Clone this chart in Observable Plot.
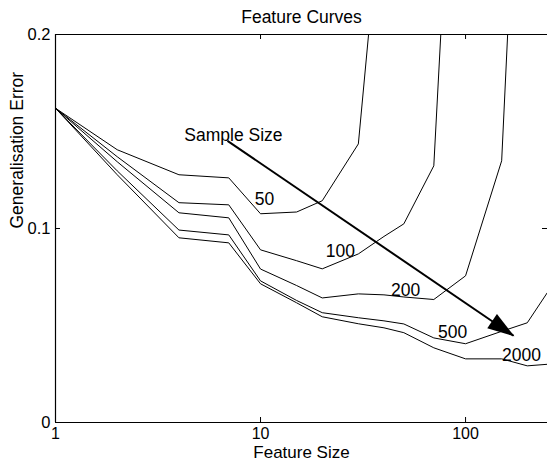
<!DOCTYPE html>
<html>
<head>
<meta charset="utf-8">
<script src="https://cdn.jsdelivr.net/npm/d3@7"></script>
<script src="https://cdn.jsdelivr.net/npm/@observablehq/plot@0.6"></script>
<style>
  html, body { margin: 0; padding: 0; background: white; }
</style>
</head>
<body>
<div id="chart"></div>
<script>
// ---- data ----
const features = [1, 2, 4, 7, 10, 15, 20, 30, 40, 50, 70, 100, 150, 200, 250];
const sampleSizes = [50, 100, 200, 500, 2000];
const err50   = [0.162, 0.1406, 0.1277, 0.1261, 0.1076, 0.1085, 0.1143, 0.1436, 0.285, null, null, null, null, null, null];
const err100  = [0.162, 0.137, 0.1133, 0.1122, 0.0890, 0.0834, 0.0792, 0.0869, 0.0959, 0.1024, 0.1323, 0.44, null, null, null];
const err200  = [0.162, 0.1344, 0.1081, 0.1055, 0.0791, 0.0706, 0.0642, 0.0663, 0.0658, 0.0647, 0.0634, 0.0756, 0.1349, 0.414, null];
const err500  = [0.162, 0.1297, 0.0992, 0.0967, 0.0730, 0.0629, 0.0566, 0.0540, 0.0524, 0.0508, 0.0436, 0.0406, 0.0470, 0.0514, 0.0668];
const err2000 = [0.162, 0.1277, 0.0952, 0.0926, 0.0715, 0.0617, 0.0545, 0.0509, 0.0488, 0.0463, 0.0385, 0.0328, 0.0328, 0.0292, 0.0300];
const errors = [err50, err100, err200, err500, err2000];

const curveLabels = ["50", "100", "200", "500", "2000"];
const labelX = [10.46, 24.5, 51, 86.4, 187.6];
const labelY = [0.1148, 0.088, 0.0679, 0.0467, 0.0344];

const arrowX = [6.9, 171.5];
const arrowY = [0.1452, 0.0447];
const arrowTitle = "Sample Size";
const arrowTitleX = 7.38;
const arrowTitleY = 0.1478;

const xTicks = [1, 10, 100];
const yTicks = [0, 0.1, 0.2];
const xInnerTicks = [10, 100];
const yInnerTicks = [0.1];

const title = "Feature Curves";
const xLabel = "Feature Size";
const yLabel = "Generalisation Error";

// ---- tables ----
const rows = sampleSizes.flatMap((s, i) =>
  features.map((f, j) => ({feature: f, error: errors[i][j], size: s}))
);
const labels = curveLabels.map((t, i) => ({text: t, x: labelX[i], y: labelY[i]}));
const arrow = [{x1: arrowX[0], y1: arrowY[0], x2: arrowX[1], y2: arrowY[1]}];

const svgNS = "http://www.w3.org/2000/svg";
function arrowHead(color, context) {
  const doc = (context && context.document) || document;
  const m = doc.createElementNS(svgNS, "marker");
  m.setAttribute("viewBox", "-28 -10 30 20");
  m.setAttribute("markerWidth", "30");
  m.setAttribute("markerHeight", "20");
  m.setAttribute("markerUnits", "userSpaceOnUse");
  m.setAttribute("orient", "auto");
  m.setAttribute("refX", "0");
  m.setAttribute("refY", "0");
  const p = doc.createElementNS(svgNS, "path");
  p.setAttribute("d", "M1,0L-26,-8.6L-26,8.6Z");
  p.setAttribute("fill", "black");
  p.setAttribute("stroke", "none");
  m.appendChild(p);
  return m;
}

const W = 547, H = 461;
const ML = 55, MR = 0, MT = 34, MB = 39;
const FW = W - ML - MR, FH = H - MT - MB;
const TICK = 5;

const chart = Plot.plot({
  width: W,
  height: H,
  marginLeft: ML,
  marginRight: MR,
  marginTop: MT,
  marginBottom: MB,
  style: {fontFamily: "'Liberation Sans', Arial, Helvetica, sans-serif", fontSize: "17.5px", background: "white", color: "black"},
  x: {type: "log", domain: [1, 251]},
  y: {domain: [0, 0.2]},
  marks: [
    // frame (left, top, bottom)
    Plot.ruleX([1], {stroke: "black", strokeWidth: 1.2}),
    Plot.ruleY([0, 0.2], {stroke: "black", strokeWidth: 1.2}),
    // inward ticks
    Plot.tickX(xInnerTicks, {x: d => d, insetTop: FH - TICK, stroke: "black"}),
    Plot.tickX(xInnerTicks, {x: d => d, insetBottom: FH - TICK, stroke: "black"}),
    Plot.tickY(yInnerTicks, {y: d => d, insetRight: FW - TICK, stroke: "black"}),
    Plot.tickY(yInnerTicks, {y: d => d, insetLeft: FW - TICK, stroke: "black"}),
    // axes labels
    Plot.axisX(xTicks, {anchor: "bottom", tickSize: 0, tickPadding: 5, fontSize: 16, tickFormat: d => String(d), label: null}),
    Plot.axisY(yTicks, {anchor: "left", tickSize: 0, tickPadding: 5, fontSize: 16.5, tickFormat: d => String(d), label: null}),
    // curves
    Plot.line(rows, {x: "feature", y: "error", z: "size", stroke: "black", strokeWidth: 1, clip: true}),
    // curve labels
    Plot.text(labels, {x: "x", y: "y", text: "text", fill: "black"}),
    // arrow
    Plot.link(arrow, {x1: "x1", y1: "y1", x2: "x2", y2: "y2", stroke: "black", strokeWidth: 2, markerEnd: arrowHead}),
    Plot.text([arrowTitle], {x: arrowTitleX, y: arrowTitleY, text: d => d, fill: "black"}),
    // titles
    Plot.text([title], {frameAnchor: "top", lineAnchor: "middle", dy: -17, text: d => d, fill: "black"}),
    Plot.text([xLabel], {frameAnchor: "bottom", lineAnchor: "middle", dy: 30, fontSize: 17, text: d => d, fill: "black"}),
    Plot.text([yLabel], {frameAnchor: "left", lineAnchor: "middle", dx: -38, rotate: -90, text: d => d, fill: "black"})
  ]
});
document.getElementById("chart").appendChild(chart);
</script>
</body>
</html>
